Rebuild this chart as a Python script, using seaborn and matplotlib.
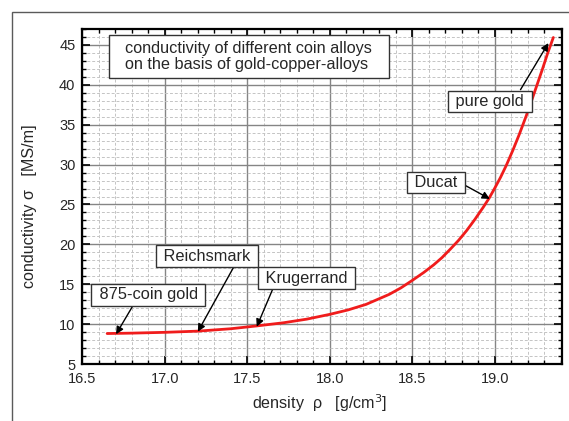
import numpy as np
import pandas as pd
import matplotlib
matplotlib.use("Agg")
import matplotlib.pyplot as plt
from matplotlib.patches import Rectangle
from matplotlib.ticker import MultipleLocator, FormatStrFormatter
import seaborn as sns

# conductivity curve of gold-copper alloys
density = [16.65, 16.8, 17.0, 17.2, 17.4, 17.556, 17.72, 17.86, 18.0, 18.11, 18.22,
           18.36, 18.43, 18.5, 18.57, 18.63, 18.68, 18.73, 18.78, 18.83, 18.88,
           18.93, 18.966, 19.0, 19.035, 19.07, 19.11, 19.15, 19.19, 19.23, 19.26,
           19.29, 19.32, 19.355]
conductivity = [8.85, 8.9, 9.0, 9.15, 9.45, 9.8, 10.2, 10.65, 11.25, 11.8, 12.5,
                13.75, 14.55, 15.5, 16.5, 17.45, 18.35, 19.4, 20.5, 21.75, 23.15,
                24.65, 25.8, 27.05, 28.4, 29.9, 31.8, 33.85, 36.05, 38.4, 40.2,
                42.0, 43.9, 45.9]

# labelled coins: arrow tip, arrow start, box centre
coin_names = ["875-coin gold", "Reichsmark", "Krugerrand", "Ducat", "pure gold"]
tip_x = [16.704, 17.2, 17.557, 18.97, 19.325]
tip_y = [8.76, 9.08, 9.7, 25.7, 45.2]
start_x = [16.803, 17.419, 17.655, 18.788, 19.156]
start_y = [12.22, 17.23, 14.47, 27.76, 39.37]
box_x = [16.9, 17.254, 17.858, 18.645, 18.97]
box_y = [13.70, 18.53, 15.79, 27.78, 37.87]

title_text = "conductivity of different coin alloys\non the basis of gold-copper-alloys"

df = pd.DataFrame({"density": density, "conductivity": conductivity})

sns.set_style("white")
plt.rcParams["font.family"] = ["Liberation Sans", "DejaVu Sans"]

fig = plt.figure(figsize=(5.69, 4.21), dpi=100)
ax = fig.add_axes([0.1448, 0.1347, 0.8436, 0.7971])

# outer frame of the original figure
fig.patches.append(Rectangle((11.5 / 569, -0.05), 1.0, 1 - 11.5 / 421 + 0.05,
                             transform=fig.transFigure, fill=False,
                             edgecolor="#5a5a5a", lw=1.0, zorder=0))

ax.xaxis.set_major_locator(MultipleLocator(0.5))
ax.xaxis.set_minor_locator(MultipleLocator(0.1))
ax.yaxis.set_major_locator(MultipleLocator(5))
ax.yaxis.set_minor_locator(MultipleLocator(1))
ax.xaxis.set_major_formatter(FormatStrFormatter("%.1f"))

ax.grid(which="minor", color="#c4c4c4", linestyle=(0, (3, 2)), lw=0.7)
ax.grid(which="major", color="#858585", linestyle="-", lw=1.0)
ax.set_axisbelow(True)

sns.lineplot(data=df, x="density", y="conductivity", color="#f01c1c", lw=2.0, ax=ax)

ax.set_xlim(16.5, 19.41)
ax.set_ylim(5, 47)

for s in ax.spines.values():
    s.set_linewidth(1.6)
    s.set_color("black")

ax.tick_params(which="both", direction="in", top=True, right=True, bottom=True, left=True,
               color="black")
ax.tick_params(which="major", length=6, width=1.2, labelsize=10.5)
ax.tick_params(which="minor", length=3, width=1.0)
ax.tick_params(axis="y", which="major", pad=5)
ax.tick_params(axis="x", which="major", pad=5.5)

ax.set_xlabel("density  ρ   [g/cm$^3$]", fontsize=11.6)
ax.set_ylabel("conductivity σ   [MS/m]", fontsize=11.6)
ax.xaxis.set_label_coords(0.495, -0.082)
ax.yaxis.set_label_coords(-0.0946, 0.472)

box = dict(boxstyle="square,pad=0.2", fc="white", ec="#333333", lw=1.0)
for name, tx, ty, sx, sy, bx, by in zip(coin_names, tip_x, tip_y, start_x, start_y, box_x, box_y):
    ax.annotate("", xy=(tx, ty), xytext=(sx, sy),
                arrowprops=dict(arrowstyle="-|>", color="black", lw=1.0,
                                mutation_scale=11, shrinkA=0, shrinkB=0))
    ax.text(bx, by, " " + name + " ", fontsize=11.8, ha="center", va="center",
            bbox=box, zorder=5)

# title box
ax.add_patch(Rectangle((0.0554, 0.854), 0.5836, 0.1272, transform=ax.transAxes,
                       fc="white", ec="#333333", lw=1.0, zorder=5))
ax.text(0.0888, 0.9176, title_text, transform=ax.transAxes, fontsize=11.7,
        ha="left", va="center", linespacing=1.08, zorder=6)

fig.savefig("out.png", dpi=100)
